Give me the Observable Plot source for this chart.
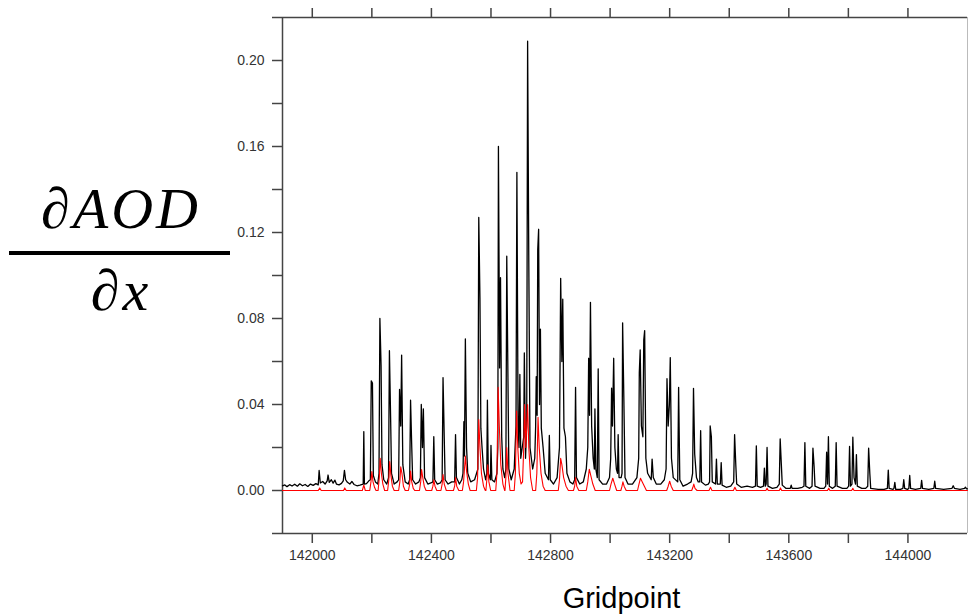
<!DOCTYPE html>
<html>
<head>
<meta charset="utf-8">
<script src="https://cdn.jsdelivr.net/npm/d3@7"></script>
<script src="https://cdn.jsdelivr.net/npm/@observablehq/plot@0.6"></script>
<style>
  html, body { margin: 0; padding: 0; background: #fff; }
  #wrap { position: relative; width: 968px; height: 616px; overflow: hidden; background: #fff; }
  #wrap svg { position: absolute; left: 0; top: 0; }
  .frac { position: absolute; left: 9px; width: 224px; text-align: center;
          font-family: "Liberation Serif", "Times New Roman", serif; font-style: italic;
          font-size: 58px; letter-spacing: 3px; line-height: 1; color: #000; white-space: nowrap; }
  #bar { position: absolute; left: 9px; width: 221px; top: 251px; height: 4px; background: #000; }
  #xlab { position: absolute; left: 279px; width: 685px; top: 584px; text-align: center;
          font-family: "Liberation Sans", Arial, sans-serif; font-size: 29px; line-height: 1; color: #000; }
</style>
</head>
<body>
<div id="wrap">
  <div class="frac" style="top:180px">∂AOD</div>
  <div id="bar"></div>
  <div class="frac" style="top:262px">∂x</div>
  <div id="xlab">Gridpoint</div>
</div>
<script>
// ---- axis definitions ----
const xDomain = [141900, 144200];
const yDomain = [-0.02, 0.22];
const xTicks = [142000, 142200, 142400, 142600, 142800, 143000, 143200, 143400, 143600, 143800, 144000];
const xTickLabels = [142000, 142400, 142800, 143200, 143600, 144000];
const yTicks = [-0.02, 0, 0.02, 0.04, 0.06, 0.08, 0.10, 0.12, 0.14, 0.16, 0.18, 0.20, 0.22];
const yTickLabels = [0, 0.04, 0.08, 0.12, 0.16, 0.20];

// ---- black series: dAOD/dx (gridpoint, value) ----
const blackSeries = [
[141900,0.0022],[141908,0.0026],[141915,0.0018],[141924,0.0027],[141932,0.0021],[141941,0.0029],[141950,0.0020],[141958,0.0031],[141967,0.0022],[141976,0.0028],[141985,0.0019],[141994,0.0030],[142003,0.0024],[142012,0.0032],[142020,0.0026],[142023,0.0093],[142027,0.0035],[142035,0.0042],[142043,0.0030],[142050,0.0045],[142053,0.0072],[142057,0.0038],[142064,0.0050],[142070,0.0034],[142076,0.0048],[142081,0.0030],[142090,0.0026],[142098,0.0033],[142104,0.0045],[142108,0.0094],[142112,0.0050],[142118,0.0038],[142126,0.0030],[142133,0.0042],[142140,0.0028],[142150,0.0022],[142160,0.0025],[142168,0.0028],
[142171,0.0030],[142173,0.0274],[142175,0.0030],[142182,0.0032],[142190,0.0045],
[142195,0.0050],[142198,0.0510],[142202,0.0500],[142205,0.0070],[142212,0.0040],[142220,0.0030],
[142224,0.0080],[142227,0.0800],[142231,0.0580],[142234,0.0120],[142240,0.0050],[142250,0.0030],
[142256,0.0060],[142259,0.0650],[142263,0.0340],[142266,0.0080],[142275,0.0030],[142285,0.0040],
[142290,0.0050],[142293,0.0470],[142297,0.0300],[142300,0.0630],[142304,0.0120],[142312,0.0040],[142322,0.0030],
[142327,0.0050],[142330,0.0420],[142334,0.0200],[142337,0.0050],[142347,0.0030],[142358,0.0040],
[142363,0.0060],[142366,0.0400],[142370,0.0200],[142373,0.0380],[142377,0.0060],[142388,0.0030],[142398,0.0035],
[142405,0.0040],[142408,0.0250],[142411,0.0050],[142420,0.0030],[142430,0.0035],
[142436,0.0050],[142439,0.0525],[142443,0.0250],[142446,0.0050],[142456,0.0030],[142468,0.0040],
[142478,0.0040],[142481,0.0260],[142484,0.0060],[142494,0.0030],[142502,0.0050],
[142506,0.0080],[142509,0.0320],[142511,0.0160],[142514,0.0705],[142518,0.0200],[142522,0.0080],[142532,0.0040],[142545,0.0050],
[142556,0.0100],[142559,0.1270],[142563,0.0890],[142566,0.0290],[142570,0.0200],[142575,0.0100],[142582,0.0050],
[142586,0.0080],[142588,0.0420],[142591,0.0080],
[142598,0.0050],[142600,0.0210],[142603,0.0050],[142612,0.0040],[142620,0.0080],
[142623,0.0200],[142625,0.1600],[142629,0.0570],[142632,0.0990],[142636,0.0250],[142640,0.0100],[142646,0.0060],
[142650,0.0100],[142653,0.1090],[142657,0.0520],[142660,0.0100],[142668,0.0050],[142678,0.0100],
[142684,0.0300],[142687,0.1480],[142691,0.0300],[142694,0.0200],[142697,0.0540],[142700,0.0150],[142705,0.0200],
[142710,0.0250],[142712,0.0640],[142716,0.0150],
[142720,0.0300],[142723,0.2090],[142727,0.1060],[142731,0.0200],[142740,0.0100],[142747,0.0150],
[142750,0.0300],[142752,0.0530],[142755,0.0350],
[142757,0.1120],[142760,0.1215],[142763,0.0400],[142766,0.0750],[142769,0.0290],[142775,0.0200],[142782,0.0080],
[142793,0.0050],[142796,0.0256],[142799,0.0050],[142810,0.0030],[142822,0.0060],
[142830,0.0200],[142834,0.0987],[142838,0.0600],[142841,0.0890],[142845,0.0290],[142850,0.0250],[142855,0.0080],[142865,0.0040],[142875,0.0030],
[142881,0.0050],[142884,0.0480],[142887,0.0060],[142898,0.0030],[142910,0.0040],[142920,0.0100],
[142925,0.0200],[142928,0.0615],[142931,0.0350],[142934,0.0875],[142938,0.0300],[142943,0.0150],
[142947,0.0100],[142949,0.0380],[142952,0.0100],
[142957,0.0060],[142960,0.0566],[142963,0.0050],[142975,0.0030],[142988,0.0030],[142998,0.0060],
[143002,0.0150],[143005,0.0476],[143008,0.0300],[143012,0.0615],[143016,0.0200],[143021,0.0100],
[143025,0.0080],[143027,0.0260],[143030,0.0060],[143037,0.0060],
[143040,0.0080],[143042,0.0780],[143046,0.0440],[143050,0.0060],[143060,0.0030],[143075,0.0030],[143090,0.0060],
[143096,0.0150],[143098,0.0546],[143101,0.0654],[143105,0.0300],[143110,0.0250],[143113,0.0700],[143116,0.0744],[143120,0.0150],[143126,0.0080],
[143138,0.0050],[143141,0.0146],[143145,0.0060],[143155,0.0030],[143170,0.0030],[143182,0.0050],
[143188,0.0100],[143191,0.0520],[143195,0.0300],[143199,0.0400],[143202,0.0618],[143206,0.0150],[143212,0.0060],
[143227,0.0040],[143230,0.0480],[143234,0.0050],[143245,0.0020],[143260,0.0030],[143272,0.0040],
[143277,0.0080],[143280,0.0475],[143284,0.0170],[143290,0.0060],[143296,0.0040],
[143301,0.0040],[143304,0.0278],[143307,0.0040],[143320,0.0025],[143330,0.0030],
[143334,0.0040],[143336,0.0300],[143340,0.0250],[143343,0.0040],
[143354,0.0030],[143357,0.0146],[143360,0.0030],
[143370,0.0030],[143373,0.0130],[143376,0.0025],[143390,0.0015],[143405,0.0020],
[143415,0.0040],[143418,0.0260],[143422,0.0120],[143425,0.0030],[143440,0.0015],[143460,0.0020],[143478,0.0015],
[143488,0.0020],[143491,0.0208],[143494,0.0020],[143505,0.0015],
[143515,0.0020],[143518,0.0104],[143521,0.0020],[143524,0.0030],[143527,0.0200],[143530,0.0020],[143545,0.0010],[143560,0.0015],
[143568,0.0030],[143571,0.0240],[143575,0.0120],[143578,0.0025],[143590,0.0010],[143605,0.0010],[143608,0.0025],[143611,0.0010],[143630,0.0010],[143645,0.0015],
[143651,0.0020],[143654,0.0223],[143657,0.0020],[143670,0.0010],
[143678,0.0020],[143681,0.0197],[143685,0.0110],[143688,0.0020],[143705,0.0010],[143718,0.0010],
[143724,0.0020],[143727,0.0178],[143730,0.0030],[143733,0.0250],[143736,0.0020],
[143747,0.0010],[143756,0.0020],[143759,0.0223],[143762,0.0020],[143780,0.0010],[143795,0.0010],
[143801,0.0020],[143804,0.0205],[143807,0.0020],[143812,0.0030],[143815,0.0248],[143819,0.0060],[143824,0.0030],[143827,0.0167],[143830,0.0020],[143845,0.0010],[143858,0.0010],
[143865,0.0020],[143868,0.0197],[143872,0.0080],[143875,0.0010],[143900,0.0005],[143920,0.0005],
[143931,0.0010],[143934,0.0095],[143937,0.0010],[143950,0.0005],
[143953,0.0010],[143956,0.0038],[143959,0.0005],[143975,0.0005],
[143983,0.0010],[143986,0.0050],[143989,0.0010],[143998,0.0005],
[144003,0.0010],[144006,0.0070],[144009,0.0010],[144025,0.0005],
[144043,0.0010],[144046,0.0047],[144049,0.0010],[144070,0.0005],
[144087,0.0010],[144090,0.0043],[144093,0.0010],[144120,0.0005],
[144148,0.0010],[144152,0.0022],[144156,0.0010],[144175,0.0005],
[144190,0.0010],[144193,0.0015],[144197,0.0008],[144200,0.0008]
];

// ---- red series (gridpoint, value) ----
const redSeries = [
[141900,0],[142020,0],[142025,0.0012],[142030,0],[142105,0],[142109,0.0012],[142114,0],[142168,0],[142173,0.0025],[142178,0],
[142193,0],[142197,0.004],[142200,0.0088],[142204,0.004],[142209,0.0015],[142214,0],
[142221,0],[142225,0.006],[142228,0.015],[142232,0.008],[142237,0.003],[142243,0],
[142253,0],[142257,0.005],[142260,0.0135],[142264,0.007],[142269,0.002],[142275,0],
[142290,0],[142294,0.004],[142297,0.011],[142301,0.008],[142306,0.002],[142312,0],
[142323,0],[142327,0.003],[142330,0.009],[142334,0.004],[142339,0.001],[142344,0],
[142360,0],[142364,0.004],[142367,0.0097],[142371,0.006],[142376,0.002],[142382,0],
[142401,0],[142405,0.002],[142408,0.005],[142412,0.002],[142418,0],
[142432,0],[142436,0.003],[142439,0.0074],[142443,0.003],[142450,0],
[142474,0],[142478,0.002],[142481,0.006],[142485,0.002],[142492,0],
[142504,0],[142508,0.004],[142511,0.010],[142514,0.016],[142518,0.009],[142524,0.003],[142530,0],
[142551,0],[142555,0.006],[142559,0.033],[142563,0.020],[142568,0.008],[142575,0.002],[142581,0],
[142583,0],[142586,0.005],[142589,0.012],[142593,0.004],[142599,0],
[142616,0],[142620,0.008],[142624,0.048],[142628,0.030],[142633,0.012],[142640,0.003],[142646,0],
[142647,0],[142650,0.006],[142653,0.020],[142657,0.008],[142664,0],
[142678,0],[142682,0.008],[142686,0.037],[142690,0.020],[142695,0.008],[142701,0.003],
[142706,0.004],[142710,0.020],[142713,0.040],[142717,0.020],[142720,0.030],[142723,0.040],[142727,0.020],[142733,0.006],[142740,0],
[142750,0],[142754,0.008],[142758,0.034],[142762,0.020],[142768,0.008],[142775,0.002],[142782,0],
[142826,0],[142830,0.005],[142834,0.015],[142838,0.012],[142844,0.006],[142852,0.002],[142860,0],
[142877,0],[142881,0.002],[142884,0.006],[142888,0.002],[142895,0],
[142920,0],[142925,0.004],[142930,0.0099],[142935,0.007],[142942,0.003],[142950,0],
[142998,0],[143003,0.003],[143009,0.0057],[143015,0.003],[143022,0],
[143036,0],[143040,0.002],[143043,0.004],[143047,0.002],[143054,0],
[143092,0],[143097,0.003],[143102,0.0057],[143108,0.004],[143115,0.002],[143122,0],
[143190,0],[143195,0.002],[143200,0.0043],[143205,0.002],[143212,0],
[143274,0],[143278,0.0015],[143281,0.003],[143285,0.001],[143292,0],
[143332,0],[143337,0.0015],[143342,0],
[143414,0],[143419,0.0015],[143424,0],
[143523,0],[143527,0.001],[143531,0],
[143568,0],[143572,0.0012],[143576,0],
[143730,0],[143734,0.001],[143738,0],
[143811,0],[143815,0.001],[143819,0],
[144200,0]
];

const axisColor = "#444";
const isLabelX = d => xTickLabels.includes(d);
const fmtY = d => yTickLabels.some(v => Math.abs(v - d) < 1e-9) ? d.toFixed(2) : "";

const chart = Plot.plot({
  width: 968,
  height: 616,
  marginLeft: 282,
  marginRight: 1,
  marginTop: 17,
  marginBottom: 83,
  x: {domain: xDomain},
  y: {domain: yDomain},
  style: {fontFamily: "'Liberation Sans', Arial, sans-serif", fontSize: "14px", background: "transparent", color: "#333"},
  marks: [
    Plot.ruleX([xDomain[1]], {stroke: "#bbb", strokeWidth: 1}),
    Plot.ruleX([xDomain[0]], {stroke: axisColor, strokeWidth: 1.5}),
    Plot.ruleY([yDomain[1]], {stroke: axisColor, strokeWidth: 1.5}),
    Plot.ruleY([yDomain[0]], {stroke: axisColor, strokeWidth: 1.5}),
    Plot.axisX(xTicks, {anchor: "bottom", tickSize: 10, tickPadding: 7, stroke: axisColor, strokeWidth: 1.5,
      tickFormat: d => isLabelX(d) ? String(d) : "", label: null, fontSize: 14, fill: "#333"}),
    Plot.axisX(xTicks, {anchor: "top", tickSize: 10, stroke: axisColor, strokeWidth: 1.5,
      tickFormat: () => "", label: null}),
    Plot.axisY(yTicks, {anchor: "left", tickSize: 10, tickPadding: 8, stroke: axisColor, strokeWidth: 1.5,
      tickFormat: fmtY, label: null, fontSize: 14, fill: "#333"}),
    Plot.line(blackSeries, {x: d => d[0], y: d => d[1], stroke: "#000", strokeWidth: 1.3}),
    Plot.line(redSeries, {x: d => d[0], y: d => d[1], stroke: "#ff0000", strokeWidth: 1.1})
  ]
});
document.getElementById("wrap").prepend(chart);
</script>
</body>
</html>
